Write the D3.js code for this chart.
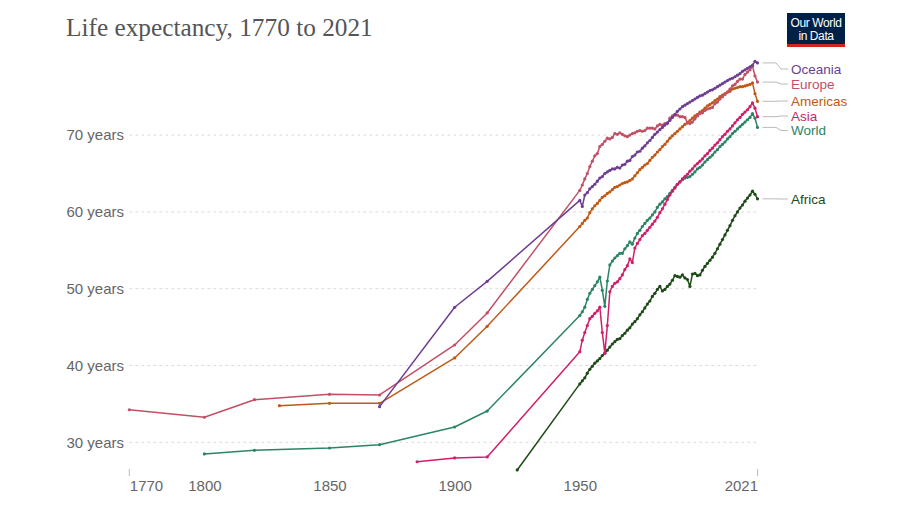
<!DOCTYPE html>
<html><head><meta charset="utf-8">
<script src="https://cdn.jsdelivr.net/npm/d3@7"></script>
<style>
html,body{margin:0;padding:0;background:#fff;}
svg{display:block;}
</style></head>
<body>
<svg id="chart" width="900" height="505"></svg>
<script>
// ---------- DATA ----------
const yTicks = [30, 40, 50, 60, 70];
const xTickYears = [1770, 1800, 1850, 1900, 1950, 2021];
const annualYears = d3.range(1950, 2022);

const europeEarlyYears = [1770, 1800, 1820, 1850, 1870, 1900, 1913];
const europeEarly = [34.24, 33.26, 35.55, 36.25, 36.16, 42.67, 46.84];
const americasEarlyYears = [1830, 1850, 1870, 1900, 1913];
const americasEarly = [34.77, 35.08, 35.08, 40.98, 45.1];
const oceaniaEarlyYears = [1870, 1900, 1913];
const oceaniaEarly = [34.64, 47.58, 50.96];
const worldEarlyYears = [1800, 1820, 1850, 1870, 1900, 1913];
const worldEarly = [28.48, 28.96, 29.26, 29.69, 31.99, 34.07];
const asiaEarlyYears = [1885, 1900, 1913];
const asiaEarly = [27.47, 27.96, 28.09];
const africaEarlyYears = [1925];
const africaEarly = [26.4];

const europeAnnual = [62.8,63.5,64.3,65.0,65.9,66.6,67.3,67.6,68.5,68.8,
69.2,69.6,69.5,69.7,70.2,70.1,70.3,70.1,69.9,69.8,
70.0,70.2,70.3,70.5,70.6,70.5,70.6,70.9,70.9,70.9,
70.8,71.2,71.4,71.3,71.5,71.5,72.2,72.5,72.6,72.6,
72.4,72.4,72.3,71.6,71.5,71.7,72.1,72.5,72.8,72.9,
73.2,73.4,73.5,73.6,74.1,74.3,74.7,75.0,75.3,75.6,
76.0,76.4,76.6,77.0,77.3,77.3,77.9,78.2,78.5,79.0,
77.7,76.9];
const oceaniaAnnual = [61.5,60.7,62.2,62.5,63.0,63.3,63.6,64.0,64.4,64.6,
65.0,65.2,65.4,65.6,65.6,65.8,65.7,66.1,66.2,66.6,
66.7,67.2,67.4,67.8,67.9,68.3,68.6,69.0,69.3,69.7,
70.1,70.4,70.7,71.0,71.3,71.6,71.9,72.3,72.7,73.1,
73.4,73.7,73.9,74.1,74.3,74.5,74.7,74.9,75.1,75.2,
75.4,75.6,75.8,75.9,76.1,76.3,76.5,76.7,76.9,77.1,
77.3,77.4,77.6,77.8,78.0,78.3,78.5,78.7,78.9,79.1,
79.6,79.4];
const americasAnnual = [58.1,58.5,58.9,59.2,59.9,60.4,60.8,61.1,61.5,61.9,
62.1,62.4,62.6,62.9,63.2,63.3,63.5,63.7,63.8,63.9,
64.1,64.3,64.7,65.1,65.5,65.8,66.1,66.3,66.7,67.1,
67.4,67.8,68.1,68.5,68.8,69.2,69.6,69.9,70.2,70.5,
70.8,71.1,71.4,71.6,71.9,72.2,72.5,72.7,73.0,73.2,
73.5,73.8,74.0,74.2,74.5,74.7,75.0,75.2,75.4,75.6,
75.7,76.0,76.1,76.2,76.3,76.3,76.4,76.5,76.6,76.8,
75.4,74.4];
const asiaAnnual = [41.8,43.3,44.3,45.2,46.1,46.4,46.8,47.1,47.6,44.3,
41.6,45.2,49.6,50.3,50.7,50.9,51.3,51.8,52.5,53.0,
53.9,53.4,55.3,55.9,56.4,56.9,57.2,57.6,58.0,58.4,
58.8,59.3,59.9,60.4,61.0,61.6,62.2,62.7,63.1,63.6,
63.9,64.3,64.6,64.9,65.3,65.6,66.0,66.3,66.6,66.9,
67.3,67.6,68.0,68.3,68.7,69.0,69.4,69.8,70.1,70.5,
70.8,71.2,71.6,72.0,72.3,72.7,73.0,73.3,73.7,74.2,
73.5,72.4];
const worldAnnual = [46.5,47.0,47.6,48.6,49.4,49.9,50.4,50.9,51.5,49.8,
47.7,51.0,53.1,53.6,54.0,54.3,54.6,54.6,55.2,55.6,
56.1,55.8,56.6,57.2,57.6,58.1,58.5,58.9,59.2,59.6,
60.0,60.6,61.0,61.3,61.7,62.0,62.4,62.8,63.2,63.6,
63.9,64.2,64.4,64.5,64.6,64.9,65.2,65.6,65.8,66.1,
66.5,66.8,67.1,67.4,67.8,68.1,68.5,68.8,69.1,69.5,
69.8,70.2,70.5,70.8,71.1,71.4,71.7,72.0,72.3,72.8,
72.2,71.0];
const africaAnnual = [37.6,38.0,38.4,39.0,39.5,39.9,40.3,40.6,40.9,41.3,
41.6,42.0,42.4,42.8,43.1,43.4,43.5,43.9,44.2,44.6,
44.9,45.4,45.7,46.1,46.6,47.0,47.5,48.0,48.4,49.0,
49.4,49.9,50.3,49.7,49.9,50.3,50.6,51.1,51.7,51.6,
51.5,51.8,51.4,51.2,50.3,51.9,52.0,51.7,51.8,52.4,
52.9,53.3,53.7,54.1,54.6,55.2,55.8,56.4,57.0,57.6,
58.2,58.9,59.5,60.0,60.5,60.9,61.4,61.8,62.2,62.7,
62.3,61.7];

const seriesNames = ["Oceania", "Europe", "Americas", "Asia", "World", "Africa"];
const seriesColors = ["#6D3E91", "#C15065", "#C05917", "#D01E6A", "#2C8465", "#1E4A17"];
const labelY = [69, 84, 101, 116, 130.5, 199];

const seriesData = [
  [oceaniaEarlyYears, oceaniaEarly, oceaniaAnnual],
  [europeEarlyYears, europeEarly, europeAnnual],
  [americasEarlyYears, americasEarly, americasAnnual],
  [asiaEarlyYears, asiaEarly, asiaAnnual],
  [worldEarlyYears, worldEarly, worldAnnual],
  [africaEarlyYears, africaEarly, africaAnnual]
].map(([ey, ev, av], i) => ({
  name: seriesNames[i],
  color: seriesColors[i],
  labelY: labelY[i],
  points: ey.map((y, j) => ({year: y, value: ev[j]}))
    .concat(annualYears.map((y, j) => ({year: y, value: av[j]})))
}));

// ---------- CHART ----------
const svg = d3.select("#chart");
const x = d3.scaleLinear().domain([1770, 2021]).range([129.3, 757.5]);
const y = d3.scaleLinear().domain([30, 70]).range([442.3, 135.1]);
const sans = "'Liberation Sans', Arial, Helvetica, sans-serif";

// Title
svg.append("text")
  .attr("x", 66).attr("y", 36)
  .attr("font-family", "'Liberation Serif', 'DejaVu Serif', serif")
  .attr("font-size", 25.3)
  .attr("fill", "#555")
  .text("Life expectancy, 1770 to 2021");

// Logo
const logo = svg.append("g");
logo.append("rect").attr("x", 787).attr("y", 13).attr("width", 58).attr("height", 34).attr("fill", "#002147");
logo.append("rect").attr("x", 787).attr("y", 44).attr("width", 58).attr("height", 3).attr("fill", "#CE261E");
logo.append("text").attr("x", 816).attr("y", 27).attr("text-anchor", "middle")
  .attr("font-family", sans).attr("font-size", 12).attr("letter-spacing", "-0.4")
  .attr("fill", "#fff").text("Our World");
logo.append("text").attr("x", 816).attr("y", 40).attr("text-anchor", "middle")
  .attr("font-family", sans).attr("font-size", 12).attr("letter-spacing", "-0.4")
  .attr("fill", "#fff").text("in Data");

// Grid lines and y labels
const yAxis = d3.axisLeft(y).tickValues(yTicks).tickSize(0).tickFormat(d => d + " years");
const yG = svg.append("g").attr("transform", "translate(124,0)").call(yAxis);
yG.select(".domain").remove();
yG.selectAll("text").attr("font-family", sans).attr("font-size", 15)
  .attr("fill", "#666").attr("x", 0).attr("dy", "0.32em");

svg.append("g").selectAll("line").data(yTicks).join("line")
  .attr("x1", x(1770)).attr("x2", x(2021))
  .attr("y1", d => y(d)).attr("y2", d => y(d))
  .attr("stroke", "#ddd").attr("stroke-width", 1).attr("stroke-dasharray", "3,3");

// x axis
const xAxis = d3.axisBottom(x).tickValues(xTickYears).tickSize(0).tickFormat(d3.format("d"));
const xG = svg.append("g").attr("transform", "translate(0,478)").call(xAxis);
xG.select(".domain").remove();
xG.selectAll("text").attr("font-family", sans).attr("font-size", 15)
  .attr("fill", "#666").attr("dy", "0.71em").attr("y", 2)
  .attr("text-anchor", d => d === 1770 ? "start" : d === 2021 ? "end" : "middle");
svg.append("g").selectAll("line").data([1770, 2021]).join("line")
  .attr("x1", d => x(d)).attr("x2", d => x(d)).attr("y1", 469).attr("y2", 476)
  .attr("stroke", "#bbb").attr("stroke-width", 1);

// Lines
const line = d3.line().x(d => x(d.year)).y(d => y(d.value));
const gS = svg.append("g");
seriesData.slice().reverse().forEach(s => {
  const g = gS.append("g");
  g.append("path").datum(s.points).attr("d", line)
    .attr("fill", "none").attr("stroke", s.color).attr("stroke-width", 1.5)
    .attr("stroke-linejoin", "round");
  g.selectAll("circle").data(s.points).join("circle")
    .attr("cx", d => x(d.year)).attr("cy", d => y(d.value)).attr("r", 1.6)
    .attr("fill", s.color);
});

// Labels with leader lines
seriesData.forEach(s => {
  const last = s.points[s.points.length - 1];
  const ey = y(last.value);
  svg.append("path")
    .attr("d", `M${x(2021) + 5},${ey} H776 L781,${s.labelY} H788`)
    .attr("fill", "none").attr("stroke", "#bbb").attr("stroke-width", 1);
  svg.append("text").attr("x", 791).attr("y", s.labelY).attr("dy", "0.35em")
    .attr("font-family", sans).attr("font-size", 13.5)
    .attr("fill", s.color).text(s.name);
});
</script>
</body></html>
